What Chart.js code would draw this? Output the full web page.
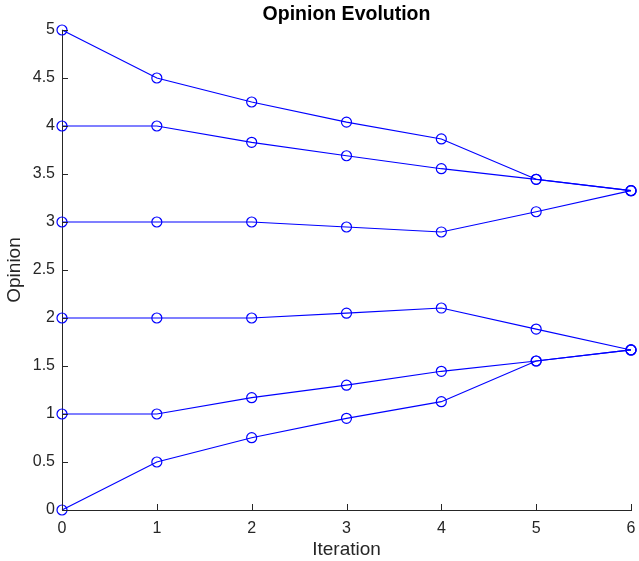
<!DOCTYPE html>
<html>
<head>
<meta charset="utf-8">
<script src="https://cdn.jsdelivr.net/npm/chart.js@4"></script>
<style>
  html, body { margin: 0; padding: 0; background: #fff; }
  #wrap { width: 639px; height: 561px; }
</style>
</head>
<body>
<div id="wrap"><canvas id="myChart" width="639" height="561"></canvas></div>
<script>
// iterations on the x axis
const iterations = [0, 1, 2, 3, 4, 5, 6];

// opinion of each agent per iteration
const agentA = [5, 4.5, 4.25, 4.04, 3.865, 3.445, 3.326];
const agentB = [4, 4, 3.83, 3.69, 3.555, 3.445, 3.326];
const agentC = [3, 3, 3, 2.948, 2.896, 3.107, 3.326];
const agentD = [2, 2, 2, 2.05, 2.104, 1.885, 1.667];
const agentE = [1, 1, 1.17, 1.30, 1.445, 1.552, 1.667];
const agentF = [0, 0.5, 0.753, 0.955, 1.128, 1.552, 1.667];

const agents = [agentA, agentB, agentC, agentD, agentE, agentF];

const axisColor = '#262626';
const lineBlue = '#0000ff';
const fontFam = 'Liberation Sans, Arial, sans-serif';

// builds the line datasets from the arrays above
const datasets = agents.map(vals => ({
  data: vals.map((v, i) => ({ x: iterations[i], y: v })),
  borderColor: lineBlue,
  borderWidth: 1.2,
  pointStyle: 'circle',
  pointRadius: 5,
  pointBorderWidth: 1.2,
  pointBorderColor: lineBlue,
  pointBackgroundColor: 'rgba(0,0,0,0)',
  fill: false,
  tension: 0,
  clip: false
}));

// matlab style ticks drawn inside the axes
const innerTicks = {
  id: 'innerTicks',
  afterDraw(chart) {
    const ctx = chart.ctx;
    const xs = chart.scales.x, ys = chart.scales.y;
    const area = chart.chartArea;
    ctx.save();
    ctx.strokeStyle = axisColor;
    ctx.lineWidth = 1;
    ctx.beginPath();
    xs.ticks.forEach(t => {
      const px = Math.round(xs.getPixelForValue(t.value)) + 0.5;
      ctx.moveTo(px, area.bottom);
      ctx.lineTo(px, area.bottom - 6);
    });
    ys.ticks.forEach(t => {
      const py = Math.round(ys.getPixelForValue(t.value)) + 0.5;
      ctx.moveTo(area.left, py);
      ctx.lineTo(area.left + 6, py);
    });
    ctx.stroke();
    ctx.restore();
  }
};

const ctx = document.getElementById('myChart').getContext('2d');
const myChart = new Chart(ctx, {
  type: 'line',
  data: { datasets: datasets },
  options: {
    responsive: false,
    animation: false,
    layout: { padding: { left: 0, right: 8, top: 0, bottom: 0 } },
    plugins: {
      legend: { display: false },
      tooltip: { enabled: false },
      title: {
        display: true,
        text: 'Opinion Evolution',
        fullSize: false,
        color: '#000',
        font: { family: fontFam, size: 19.5, weight: 'bold' },
        padding: { top: 3, bottom: 3.6 }
      }
    },
    scales: {
      x: {
        type: 'linear',
        min: 0,
        max: 6,
        ticks: {
          stepSize: 1,
          color: axisColor,
          padding: 9,
          font: { family: fontFam, size: 16 },
          callback: v => String(v)
        },
        grid: { display: false, drawTicks: false },
        border: { display: true, color: axisColor, width: 1 },
        title: {
          display: true,
          text: 'Iteration',
          color: axisColor,
          padding: { top: 0, bottom: 0 },
          font: { family: fontFam, size: 19 }
        },
        afterFit(scale) {
          scale.height = 51;
          scale.paddingRight = 0;
          scale.paddingLeft = 0;
        }
      },
      y: {
        type: 'linear',
        min: 0,
        max: 5,
        ticks: {
          stepSize: 0.5,
          color: axisColor,
          padding: 7,
          font: { family: fontFam, size: 16 },
          callback: v => String(v)
        },
        grid: { display: false, drawTicks: false },
        border: { display: true, color: axisColor, width: 1 },
        title: {
          display: true,
          text: 'Opinion',
          color: axisColor,
          padding: { top: 3, bottom: 0 },
          font: { family: fontFam, size: 19 }
        },
        afterFit(scale) { scale.width = 62; }
      }
    }
  },
  plugins: [innerTicks]
});
</script>
</body>
</html>
